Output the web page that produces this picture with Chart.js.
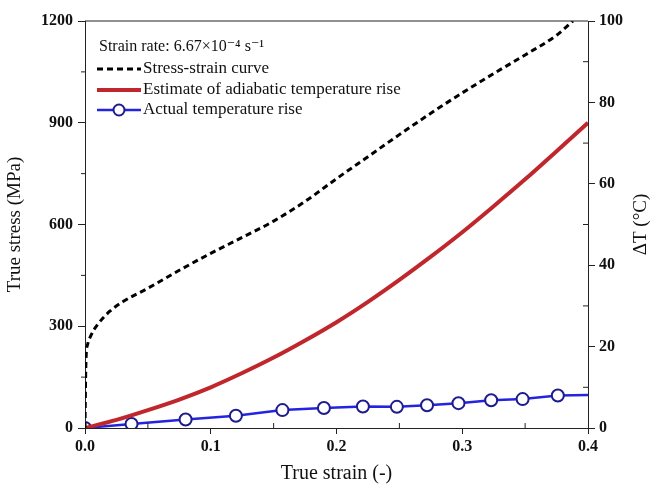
<!DOCTYPE html>
<html>
<head>
<meta charset="utf-8">
<script src="https://cdn.jsdelivr.net/npm/chart.js@4.4.1/dist/chart.umd.min.js"></script>
<style>
  html, body { margin: 0; padding: 0; background: #fff; }
  #wrap { width: 653px; height: 490px; }
</style>
</head>
<body>
<div id="wrap"><canvas id="chart" width="653" height="490"></canvas></div>
<script>
// stress-strain curve (left axis, MPa)
const stressStrain = [0, 0.0005, 0.001, 0.002, 0.005, 0.01, 0.02, 0.03, 0.05, 0.075, 0.1, 0.125, 0.15, 0.175, 0.2, 0.225, 0.25, 0.275, 0.3, 0.325, 0.35, 0.375, 0.388];
const stressValues = [0, 150, 220, 245, 275, 305, 345, 372, 412, 465, 515, 562, 610, 668, 735, 800, 865, 928, 988, 1045, 1100, 1158, 1200];

// estimated adiabatic temperature rise (right axis, degC)
const adiabaticStrain = [0, 0.025, 0.05, 0.075, 0.1, 0.125, 0.15, 0.175, 0.2, 0.225, 0.25, 0.275, 0.3, 0.325, 0.35, 0.375, 0.4];
const adiabaticValues = [0, 2.0, 4.4, 7.0, 10, 13.5, 17.3, 21.5, 26, 31, 36.4, 42.1, 48.1, 54.5, 61.1, 68.0, 75];

// measured temperature rise (right axis, degC)
const actualStrain = [0, 0.037, 0.08, 0.12, 0.157, 0.19, 0.221, 0.248, 0.272, 0.297, 0.323, 0.348, 0.376, 0.4];
const actualValues = [0, 1.0, 2.1, 3.0, 4.4, 4.9, 5.3, 5.2, 5.6, 6.1, 6.8, 7.1, 8.0, 8.1];

const stressTicks = [0, 300, 600, 900, 1200];
const tempTicks = [0, 20, 40, 60, 80, 100];
const strainTicks = [0, 0.1, 0.2, 0.3, 0.4];

const serif = '"Liberation Serif", "DejaVu Serif", serif';

function toPoints(xs, ys) {
    return xs.map((x, i) => ({ x: x, y: ys[i] }));
}

// minor ticks, top frame line, right axis title and the legend box inside the plot
const decorations = {
    id: 'decorations',
    afterDraw(chart) {
        const ctx = chart.ctx;
        const area = chart.chartArea;
        const xs = chart.scales.x;
        const yl = chart.scales.y;
        const yr = chart.scales.y2;
        ctx.save();
        ctx.strokeStyle = '#222';
        ctx.lineWidth = 1;

        ctx.beginPath();
        ctx.moveTo(area.left, area.top);
        ctx.lineTo(area.right, area.top);
        ctx.stroke();

        ctx.beginPath();
        for (let v = 0.05; v < 0.4; v += 0.1) {
            const px = xs.getPixelForValue(v);
            ctx.moveTo(px, area.bottom);
            ctx.lineTo(px, area.bottom - 5);
        }
        for (let v = 150; v < 1200; v += 300) {
            const py = yl.getPixelForValue(v);
            ctx.moveTo(area.left, py);
            ctx.lineTo(area.left - 4, py);
        }
        for (let v = 10; v < 100; v += 20) {
            const py = yr.getPixelForValue(v);
            ctx.moveTo(area.right, py);
            ctx.lineTo(area.right - 5, py);
        }
        ctx.stroke();

        // right axis title, reading bottom to top
        ctx.save();
        ctx.translate(641, (area.top + area.bottom) / 2);
        ctx.rotate(-Math.PI / 2);
        ctx.fillStyle = '#111';
        ctx.font = '19px ' + serif;
        ctx.textAlign = 'center';
        ctx.textBaseline = 'middle';
        ctx.fillText('ΔT (°C)', 0, 0);
        ctx.restore();

        // legend
        ctx.fillStyle = '#111';
        ctx.textBaseline = 'middle';
        ctx.font = '16px ' + serif;
        ctx.fillText('Strain rate: 6.67×10⁻⁴ s⁻¹', 99, 47);

        ctx.font = '17px ' + serif;
        const ds = chart.data.datasets;
        const rows = [69, 90, 110];
        ds.forEach((d, i) => {
            const y = rows[i];
            ctx.save();
            ctx.strokeStyle = d.borderColor;
            ctx.lineWidth = d.borderWidth;
            ctx.setLineDash(d.borderDash || []);
            ctx.beginPath();
            ctx.moveTo(97, y);
            ctx.lineTo(141, y);
            ctx.stroke();
            ctx.setLineDash([]);
            if (d.pointBorderWidth) {
                ctx.beginPath();
                ctx.arc(119, y, 5.5, 0, Math.PI * 2);
                ctx.fillStyle = d.pointBackgroundColor;
                ctx.fill();
                ctx.strokeStyle = d.pointBorderColor;
                ctx.lineWidth = d.pointBorderWidth;
                ctx.stroke();
            }
            ctx.restore();
            ctx.fillText(d.label, 143, y);
        });
        ctx.restore();
    }
};

new Chart(document.getElementById('chart'), {
    type: 'line',
    data: {
        datasets: [{
            label: 'Stress-strain curve',
            data: toPoints(stressStrain, stressValues),
            yAxisID: 'y',
            borderColor: '#000',
            borderWidth: 3,
            borderDash: [6, 4],
            pointRadius: 0,
            cubicInterpolationMode: 'monotone'
        }, {
            label: 'Estimate of adiabatic temperature rise',
            data: toPoints(adiabaticStrain, adiabaticValues),
            yAxisID: 'y2',
            borderColor: '#c0272d',
            borderWidth: 4,
            pointRadius: 0,
            cubicInterpolationMode: 'monotone'
        }, {
            label: 'Actual temperature rise',
            data: toPoints(actualStrain, actualValues),
            yAxisID: 'y2',
            borderColor: '#2424e0',
            borderWidth: 2.5,
            pointRadius: [6, 6, 6, 6, 6, 6, 6, 6, 6, 6, 6, 6, 6, 0],
            pointBackgroundColor: '#fff',
            pointBorderColor: '#1c1c8e',
            pointBorderWidth: 2,
            tension: 0
        }]
    },
    options: {
        responsive: false,
        animation: false,
        layout: { padding: { top: 21, left: 0, right: 0, bottom: 0 } },
        plugins: {
            legend: { display: false },
            tooltip: { enabled: false }
        },
        scales: {
            x: {
                type: 'linear',
                min: 0,
                max: 0.4,
                afterBuildTicks: s => { s.ticks = strainTicks.map(v => ({ value: v })); },
                afterFit: s => { s.height = 62; },
                border: { display: true, color: '#222', width: 1 },
                grid: { drawOnChartArea: false, tickLength: 6, color: '#222' },
                ticks: {
                    color: '#111',
                    padding: 3,
                    font: { family: serif, size: 16, weight: 'bold' },
                    callback: v => v.toFixed(1)
                },
                title: {
                    display: true,
                    text: 'True strain (-)',
                    color: '#111',
                    font: { family: serif, size: 20 },
                    padding: { top: 5 }
                }
            },
            y: {
                position: 'left',
                min: 0,
                max: 1200,
                afterBuildTicks: s => { s.ticks = stressTicks.map(v => ({ value: v })); },
                afterFit: s => { s.width = 85; },
                border: { display: true, color: '#222', width: 1 },
                grid: { drawOnChartArea: false, tickLength: 7, color: '#222' },
                ticks: {
                    color: '#111',
                    padding: 5,
                    font: { family: serif, size: 16, weight: 'bold' },
                    callback: v => String(v)
                },
                title: {
                    display: true,
                    text: 'True stress (MPa)',
                    color: '#111',
                    font: { family: serif, size: 19 },
                    padding: { bottom: 0 }
                }
            },
            y2: {
                position: 'right',
                min: 0,
                max: 100,
                afterBuildTicks: s => { s.ticks = tempTicks.map(v => ({ value: v })); },
                afterFit: s => { s.width = 65; },
                border: { display: true, color: '#222', width: 1 },
                grid: { drawOnChartArea: false, tickLength: 7, color: '#222' },
                ticks: {
                    color: '#111',
                    padding: 4,
                    font: { family: serif, size: 16, weight: 'bold' },
                    callback: v => String(v)
                },
                title: { display: false }
            }
        }
    },
    plugins: [decorations]
});
</script>
</body>
</html>
